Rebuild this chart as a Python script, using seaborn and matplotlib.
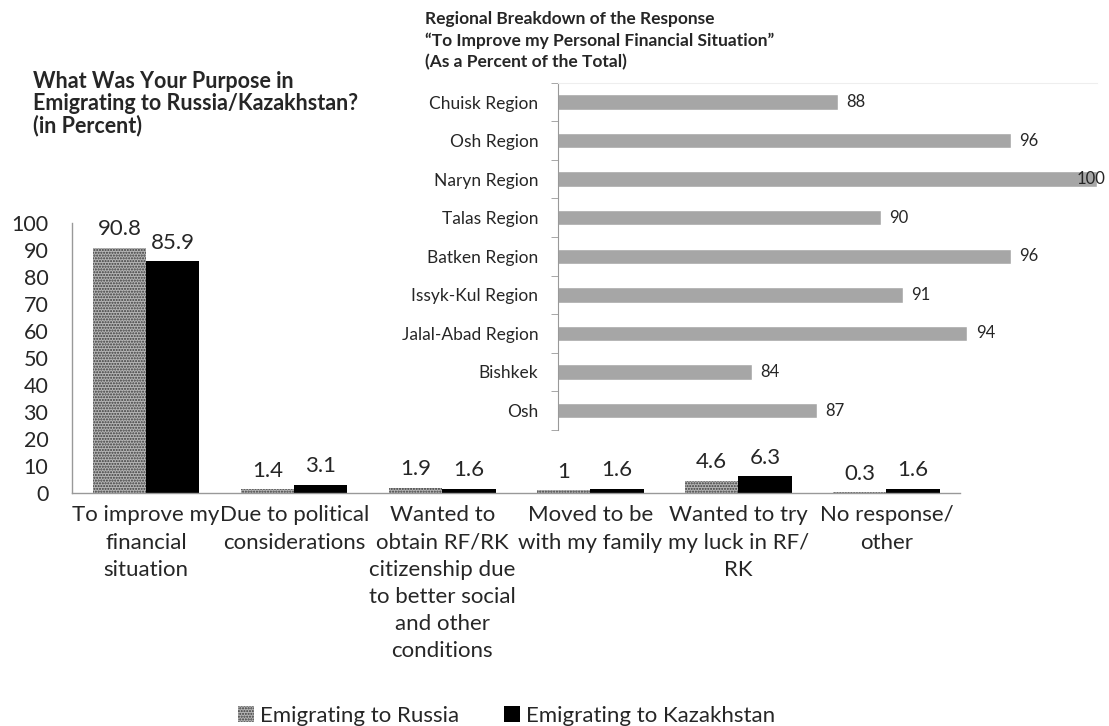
import numpy as np
import pandas as pd
import matplotlib.pyplot as plt
from matplotlib.patches import Patch
import seaborn as sns

# --- data ---
purposes = ["To improve my\nfinancial\nsituation",
            "Due to political\nconsiderations",
            "Wanted to\nobtain RF/RK\ncitizenship due\nto better social\nand other\nconditions",
            "Moved to be\nwith my family",
            "Wanted to try\nmy luck in RF/\nRK",
            "No response/\nother"]
russia = [90.8, 1.4, 1.9, 1.0, 4.6, 0.3]
kazakhstan = [85.9, 3.1, 1.6, 1.6, 6.3, 1.6]
series = ["Emigrating to Russia", "Emigrating to Kazakhstan"]

regions = ["Chuisk Region", "Osh Region", "Naryn Region", "Talas Region",
           "Batken Region", "Issyk-Kul Region", "Jalal-Abad Region",
           "Bishkek", "Osh"]
region_vals = [88, 96, 100, 90, 96, 91, 94, 84, 87]

df = pd.DataFrame({
    "purpose": purposes * 2,
    "series": [series[0]] * 6 + [series[1]] * 6,
    "value": russia + kazakhstan,
})
df_reg = pd.DataFrame({"region": regions, "value": region_vals})

sns.set_style("white")
plt.rcParams["font.family"] = ["Lato", "DejaVu Sans"]

fig = plt.figure(figsize=(11.09, 7.26), dpi=100)

# --- main chart ---
ax = fig.add_axes([0.065, 0.321, 0.801, 0.372])
sns.barplot(data=df, x="purpose", y="value", hue="series", order=purposes,
            hue_order=series, palette=["#b5b5b5", "#000000"], width=0.72,
            gap=0, saturation=1, ax=ax, legend=False)
for p in ax.containers[0]:
    p.set_hatch("......")
    p.set_edgecolor("#3a3a3a")
    p.set_linewidth(0)
for p in ax.containers[1]:
    p.set_linewidth(0)
for c in ax.containers:
    ax.bar_label(c, labels=[f"{b.get_height():g}" for b in c], padding=6,
                 fontsize=16)

ax.set_ylim(0, 100)
ax.set_yticks(range(0, 101, 10))
ax.set_xlim(-0.5, 5.5)
ax.set_xlabel("")
ax.set_ylabel("")
ax.tick_params(axis="y", labelsize=15.5, length=0, pad=17)
ax.tick_params(axis="x", labelsize=16, length=0, pad=9)
for lbl in ax.get_xticklabels():
    lbl.set_linespacing(1.45)
for s in ["top", "right"]:
    ax.spines[s].set_visible(False)
for s in ["left", "bottom"]:
    ax.spines[s].set_color("#999999")
    ax.spines[s].set_linewidth(1)

fig.text(0.03, 0.902, "What Was Your Purpose in\nEmigrating to Russia/Kazakhstan?\n(in Percent)",
         fontsize=15.5, fontweight="bold", va="top", ha="left", linespacing=1.05)

# --- inset: regional breakdown ---
ax2 = fig.add_axes([0.503, 0.408, 0.486, 0.478])
sns.barplot(data=df_reg, x="value", y="region", order=regions, orient="h",
            color="#a6a6a6", saturation=1, width=0.4, ax=ax2)
bars = ax2.containers[0]
ax2.bar_label(bars, labels=[f"{v:g}" if v < 100 else "" for v in region_vals],
              padding=6, fontsize=12)
# the full-length bar carries its label over the bar end, as in the original
i_max = int(np.argmax(region_vals))
ax2.annotate(f"{region_vals[i_max]:g}", xy=(region_vals[i_max], i_max),
             xytext=(6, 0), textcoords="offset points", ha="right",
             va="center", fontsize=12, annotation_clip=False)
ax2.set_xlim(75, 100)
ax2.set_xlabel("")
ax2.set_ylabel("")
ax2.set_xticks([])
ax2.set_yticks(np.arange(-0.5, len(regions), 1), minor=True)
ax2.tick_params(axis="y", which="major", labelsize=12.5, length=0, pad=14)
ax2.tick_params(axis="y", which="minor", length=5, color="#999999", left=True)
ax2.patch.set_alpha(0)
for s in ["right", "bottom"]:
    ax2.spines[s].set_visible(False)
ax2.spines["top"].set_color("#eeeeee")
ax2.spines["left"].set_color("#999999")

fig.text(0.383, 0.985, "Regional Breakdown of the Response\n\u201cTo Improve my Personal Financial Situation\u201d\n(As a Percent of the Total)",
         fontsize=12.5, fontweight="bold", va="top", ha="left", linespacing=1.4)

# --- legend ---
handles = [Patch(facecolor="#b5b5b5", edgecolor="#3a3a3a", hatch="......", linewidth=0),
           Patch(facecolor="#000000", linewidth=0)]
fig.legend(handles, series, loc="center", bbox_to_anchor=(0.457, 0.014),
           ncol=2, frameon=False, fontsize=16, handlelength=0.7,
           handleheight=0.7, handletextpad=0.3, columnspacing=2.0,
           borderpad=0)

fig.savefig("out.png", dpi=100)
